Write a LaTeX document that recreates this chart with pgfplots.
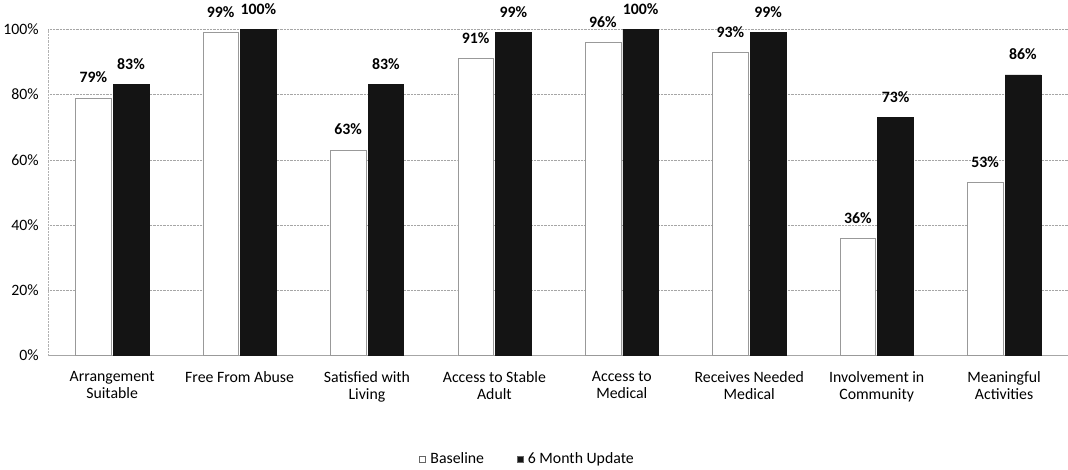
\documentclass[border=0pt]{standalone}
\usepackage{pgfplots}
\pgfplotsset{compat=1.18}
\usepackage{fontspec}
\setmainfont{Carlito}

\begin{document}
\begin{tikzpicture}
\begin{axis}[
    scale only axis,
    width=1000pt, height=320pt,
    ybar=2pt,
    bar width=35pt,
    ymin=0, ymax=100,
    xmin=-0.5, xmax=7.5,
    xtick={0,...,7},
    xticklabels={Arrangement\\Suitable, Free From Abuse, Satisfied with\\Living, Access to Stable\\Adult, Access to\\Medical, Receives Needed\\Medical, Involvement in\\Community, Meaningful\\Activities},
    xticklabel style={align=center, font=\fontsize{15.5}{17}\selectfont, yshift=-12pt},
    ytick={0,20,...,100},
    yticklabel={\pgfmathprintnumber{\tick}\%},
    yticklabel style={font=\fontsize{15.5}{17}\selectfont, xshift=-6pt},
    /pgf/number format/assume math mode=true,
    ymajorgrids,
    grid style={densely dotted, gray!70},
    axis x line*=bottom,
    axis y line*=left,
    x axis line style={gray!70, -},
    y axis line style={gray!60, densely dotted, -},
    major tick length=0pt,
    nodes near coords={\pgfmathprintnumber{\pgfplotspointmeta}\%},
    nodes near coords style={font=\fontsize{15.5}{17}\selectfont\bfseries, yshift=11pt},
    legend style={at={(0.47,-0.285)}, anchor=north, draw=none, legend columns=2,
        font=\fontsize{15.5}{17}\selectfont,
        /tikz/every even column/.append style={column sep=30pt}},
    legend image code/.code={\draw[#1, draw=black!60] (0pt,-3pt) rectangle (6pt,3pt);},
]
\addplot[fill=white, draw=gray!80] coordinates {(0,79) (1,99) (2,63) (3,91) (4,96) (5,93) (6,36) (7,53)};
\addplot[fill=black!92, draw=black!92] coordinates {(0,83) (1,100) (2,83) (3,99) (4,100) (5,99) (6,73) (7,86)};
\legend{\,Baseline, \,6 Month Update}
\end{axis}
\end{tikzpicture}
\end{document}
